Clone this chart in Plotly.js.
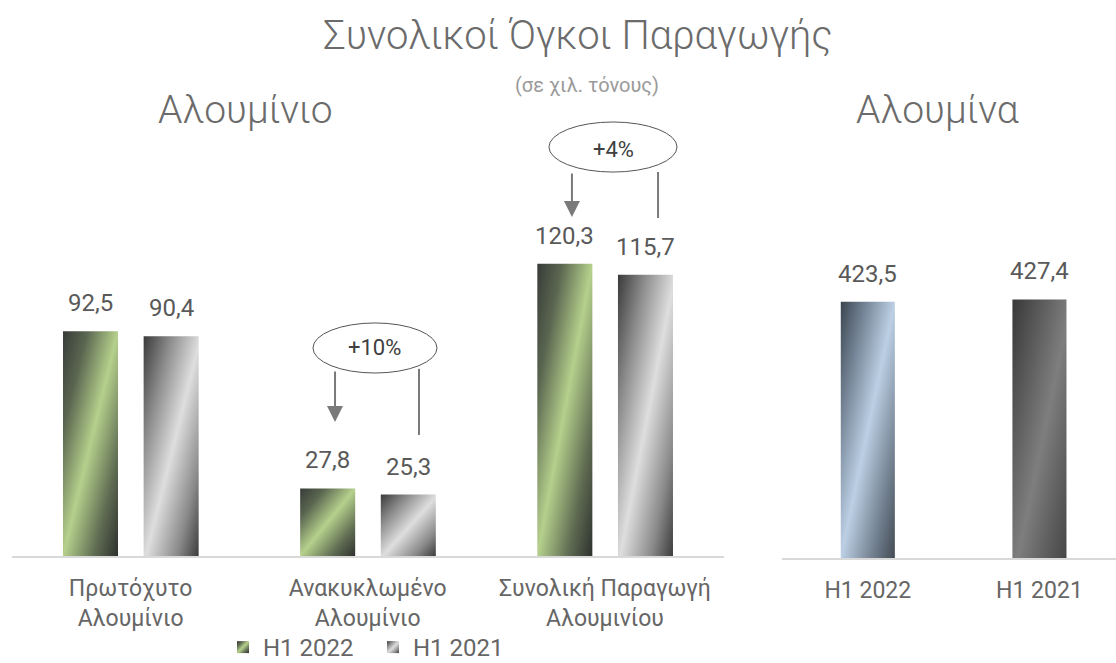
<!DOCTYPE html>
<html>
<head>
<meta charset="utf-8">
<script src="https://cdn.plot.ly/plotly-3.0.1.min.js"></script>
<style>
html,body{margin:0;padding:0;background:#fff;}
#chart{width:1116px;height:663px;}
</style>
</head>
<body>
<div id="chart"></div>
<script>
// ---- data ----
const aluCategories = ['Πρωτόχυτο<br>Αλουμίνιο', 'Ανακυκλωμένο<br>Αλουμίνιο', 'Συνολική Παραγωγή<br>Αλουμινίου'];
const alu2022 = [92.5, 27.8, 120.3];
const alu2021 = [90.4, 25.3, 115.7];
const aluminaCategories = ['H1 2022', 'H1 2021'];
const aluminaValues = [423.5, 427.4];
const seriesNames = ['H1 2022', 'H1 2021'];
const changeLabels = ['+10%', '+4%'];

// ---- style constants ----
const FONT = 'Roboto, "Open Sans", sans-serif';
const W = 0.232, OFF22 = -0.285, OFF21 = 0.055;
const fmt = v => v.toFixed(1).replace('.', ',');

const traces = [
  {type:'bar', name:seriesNames[0], x:aluCategories, y:alu2022, xaxis:'x', yaxis:'y',
   width:W, offset:OFF22, marker:{color:'#8aa070'}, hoverinfo:'skip'},
  {type:'bar', name:seriesNames[1], x:aluCategories, y:alu2021, xaxis:'x', yaxis:'y',
   width:W, offset:OFF21, marker:{color:'#a0a0a0'}, hoverinfo:'skip'},
  {type:'bar', name:'Αλουμίνα', x:aluminaCategories, y:aluminaValues, xaxis:'x2', yaxis:'y2',
   width:0.315, marker:{color:['#8a9bb0','#5a5a5a']}, showlegend:false, hoverinfo:'skip'}
];

const annotations = [];
const labelFont = {size:24,color:'#595959',family:FONT};
alu2022.forEach((v,i)=>annotations.push({xref:'x',yref:'y',x:i+OFF22+W/2,y:v,text:fmt(v),showarrow:false,yanchor:'bottom',yshift:12,font:labelFont}));
alu2021.forEach((v,i)=>annotations.push({xref:'x',yref:'y',x:i+OFF21+W/2,y:v,text:fmt(v),showarrow:false,yanchor:'bottom',yshift:12,font:labelFont}));
aluminaValues.forEach((v,i)=>annotations.push({xref:'x2',yref:'y2',x:i,y:v,text:fmt(v),showarrow:false,yanchor:'bottom',yshift:12,font:labelFont}));

// section titles
annotations.push({xref:'paper',yref:'paper',x:587/1116,y:1-85/663,text:'(σε χιλ. τόνους)',showarrow:false,xanchor:'center',yanchor:'middle',font:{size:20,color:'#9a9a9a',family:FONT}});
annotations.push({xref:'paper',yref:'paper',x:245/1116,y:1-110/663,text:'Αλουμίνιο',showarrow:false,xanchor:'center',yanchor:'middle',font:{size:39,color:'#6b6b6b',family:FONT,weight:300}});
annotations.push({xref:'paper',yref:'paper',x:937/1116,y:1-110/663,text:'Αλουμίνα',showarrow:false,xanchor:'center',yanchor:'middle',font:{size:39,color:'#6b6b6b',family:FONT,weight:300}});

// change callouts
annotations.push({xref:'x',yref:'y',x:1.03,y:85.6,text:changeLabels[0],showarrow:false,font:{size:22,color:'#404040',family:FONT}});
annotations.push({xref:'x',yref:'y',x:2.035,y:167.1,text:changeLabels[1],showarrow:false,font:{size:22,color:'#404040',family:FONT}});
annotations.push({xref:'x',yref:'y',axref:'x',ayref:'y',x:0.862,y:55.1,ax:0.862,ay:76.5,text:'',showarrow:true,arrowhead:2,arrowsize:1.6,arrowwidth:2,arrowcolor:'#7a7a7a',standoff:0});
annotations.push({xref:'x',yref:'y',axref:'x',ayref:'y',x:1.861,y:139.5,ax:1.861,ay:158.0,text:'',showarrow:true,arrowhead:2,arrowsize:1.6,arrowwidth:2,arrowcolor:'#7a7a7a',standoff:0});

const shapes = [
  {type:'circle',xref:'x',yref:'y',x0:0.769,x1:1.292,y0:75.3,y1:95.9,line:{color:'#555',width:1},fillcolor:'rgba(0,0,0,0)'},
  {type:'line',xref:'x',yref:'y',x0:1.216,x1:1.216,y0:77.0,y1:49.8,line:{color:'#7a7a7a',width:2}},
  {type:'circle',xref:'x',yref:'y',x0:1.764,x1:2.304,y0:158.0,y1:178.6,line:{color:'#555',width:1},fillcolor:'rgba(0,0,0,0)'},
  {type:'line',xref:'x',yref:'y',x0:2.224,x1:2.224,y0:158.0,y1:139.1,line:{color:'#7a7a7a',width:2}}
];

const axisCommon = {showgrid:false, zeroline:false, showline:true, linecolor:'#d9d9d9', linewidth:2,
  ticks:'', ticklabelstandoff:10, tickfont:{size:23,color:'#666',family:FONT}, fixedrange:true};

const layout = {
  width:1116, height:663,
  margin:{l:0,r:0,t:0,b:0,autoexpand:false},
  paper_bgcolor:'#fff', plot_bgcolor:'rgba(0,0,0,0)',
  font:{family:FONT,color:'#666'},
  separators:',.',
  title:{text:'Συνολικοί Όγκοι Παραγωγής', x:578/1116, xanchor:'center', y:1-35/663, yanchor:'middle',
         font:{size:40,color:'#6b6b6b',family:FONT,weight:300}},
  barmode:'group',
  showlegend:true,
  legend:{orientation:'h', x:223/1116, xanchor:'left', y:-7/663, yanchor:'bottom', bgcolor:'rgba(0,0,0,0)',
          entrywidth:105, entrywidthmode:'pixels',
          font:{size:24,color:'#666',family:FONT}, itemclick:false, itemdoubleclick:false, traceorder:'normal'},
  xaxis:Object.assign({}, axisCommon, {domain:[12/1116, 723.5/1116], range:[-0.5,2.5], anchor:'y', type:'category'}),
  yaxis:{domain:[107/663, 563/663], range:[0,187.65], visible:false, fixedrange:true, anchor:'x'},
  xaxis2:Object.assign({}, axisCommon, {domain:[782/1116, 1], range:[-0.5,1.446], anchor:'y2', type:'category'}),
  yaxis2:{domain:[105/663, 563/663], range:[0,757], visible:false, fixedrange:true, anchor:'x2'},
  annotations:annotations,
  shapes:shapes
};

function addGradients(){
  const gd = document.getElementById('chart');
  const svg = gd.querySelector('svg.main-svg');
  const NS = 'http://www.w3.org/2000/svg';
  let defs = svg.querySelector('defs');
  if(!defs){defs = document.createElementNS(NS,'defs'); svg.insertBefore(defs, svg.firstChild);}
  const grads = {
    gGreen:[[0,'#383b38'],[0.22,'#5a6650'],[0.5,'#b5d08c'],[0.78,'#5f6c52'],[1,'#2e312e']],
    gGray:[[0,'#3a3a3a'],[0.25,'#8c8c8c'],[0.52,'#dedede'],[0.8,'#8a8a8a'],[1,'#3c3c3c']],
    gBlue:[[0,'#3b4550'],[0.25,'#7a8a9c'],[0.5,'#bccfe4'],[0.8,'#6f7d8c'],[1,'#434b54']],
    gDark:[[0,'#383838'],[0.3,'#5e5e5e'],[0.55,'#7e7e7e'],[0.8,'#5e5e5e'],[1,'#474747']]
  };
  Object.keys(grads).forEach(id=>{
    const lg = document.createElementNS(NS,'linearGradient');
    lg.setAttribute('id',id);
    lg.setAttribute('x1','0');lg.setAttribute('y1','0');lg.setAttribute('x2','1');lg.setAttribute('y2','1');
    grads[id].forEach(s=>{
      const st = document.createElementNS(NS,'stop');
      st.setAttribute('offset',s[0]); st.setAttribute('stop-color',s[1]);
      lg.appendChild(st);
    });
    defs.appendChild(lg);
  });
  const traceGroups = gd.querySelectorAll('.barlayer .trace');
  const fills = [['gGreen'],['gGray'],['gBlue','gDark']];
  traceGroups.forEach((tg,ti)=>{
    tg.querySelectorAll('.point path').forEach((p,pi)=>{
      const f = fills[ti] ? (fills[ti][pi] || fills[ti][0]) : null;
      if(f) p.style.fill = 'url(#'+f+')';
    });
  });
  const legendPts = gd.querySelectorAll('.legend .traces');
  legendPts.forEach((lt,li)=>{
    const f = li===0 ? 'gGreen' : 'gGray';
    lt.querySelectorAll('.legendpoints path').forEach(p=>{p.style.fill='url(#'+f+')'; p.style.stroke='none';});
  });
}

Plotly.newPlot('chart', traces, layout, {displayModeBar:false, staticPlot:true}).then(addGradients);
</script>
</body>
</html>
